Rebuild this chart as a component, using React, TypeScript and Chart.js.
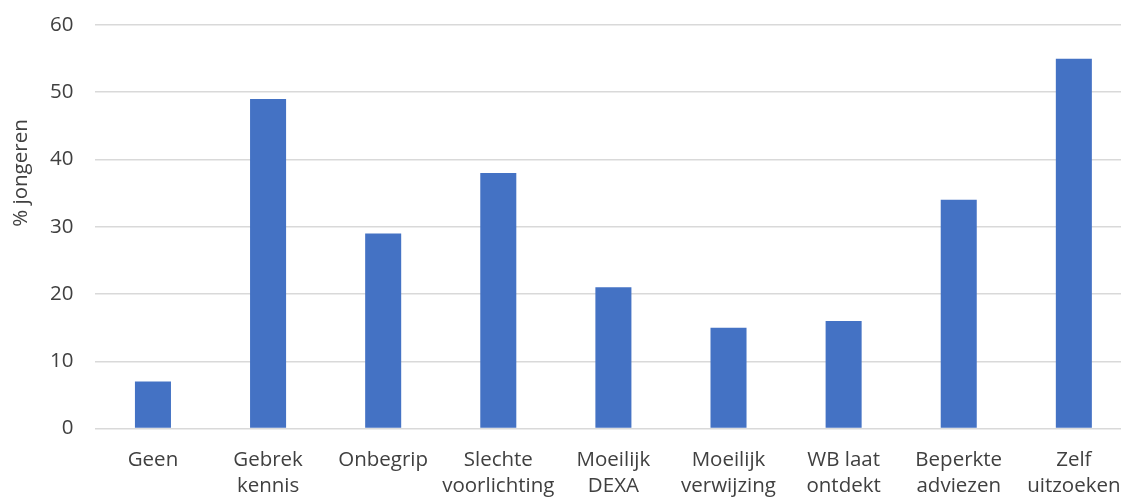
import React, { useEffect, useRef } from "react";
import { Chart, registerables } from "chart.js";

Chart.register(...registerables);

const categories: string[][] = [
  ["Geen"],
  ["Gebrek", "kennis"],
  ["Onbegrip"],
  ["Slechte", "voorlichting"],
  ["Moeilijk", "DEXA"],
  ["Moeilijk", "verwijzing"],
  ["WB laat", "ontdekt"],
  ["Beperkte", "adviezen"],
  ["Zelf", "uitzoeken"],
];
const percentages: number[] = [7, 49, 29, 38, 21, 15, 16, 34, 55];
const yTicks: number[] = [0, 10, 20, 30, 40, 50, 60];
const yTitle = "% jongeren";

const FONT = "'Open Sans', 'Segoe UI', sans-serif";
const TEXT = "#404040";
const GRID = "#d9d9d9";
const BAR = "#4472C4";

const axisTitlePlugin = {
  id: "axisTitleLeft",
  afterDraw(chart: Chart) {
    const ctx = chart.ctx;
    ctx.save();
    ctx.translate(21, 173);
    ctx.rotate(-Math.PI / 2);
    ctx.font = `400 20.5px ${FONT}`;
    ctx.fillStyle = TEXT;
    ctx.textAlign = "center";
    ctx.textBaseline = "middle";
    ctx.fillText(yTitle, 0, 0);
    ctx.restore();
  },
};

export default function App() {
  const ref = useRef<HTMLCanvasElement | null>(null);

  useEffect(() => {
    if (!ref.current) return;
    const chart = new Chart(ref.current, {
      type: "bar",
      data: {
        labels: categories,
        datasets: [
          {
            data: percentages,
            backgroundColor: BAR,
            borderWidth: 0,
            categoryPercentage: 1,
            barPercentage: 0.313,
          },
        ],
      },
      options: {
        responsive: false,
        animation: false,
        layout: { padding: { top: 25, right: 8.5, bottom: 0, left: 0 } },
        plugins: {
          legend: { display: false },
          tooltip: { enabled: false },
        },
        scales: {
          x: {
            grid: { display: false, drawTicks: false },
            border: { display: false },
            ticks: {
              color: TEXT,
              font: { family: FONT, size: 20.5, weight: 400, lineHeight: 1.27 },
              padding: 19,
              maxRotation: 0,
              autoSkip: false,
            },
            afterFit(scale: any) {
              scale.height = 71.5;
            },
          },
          y: {
            min: 0,
            max: 60,
            afterBuildTicks(scale: any) {
              scale.ticks = yTicks.map((v) => ({ value: v }));
            },
            grid: { color: GRID, lineWidth: 1.5, drawTicks: false },
            border: { display: false },
            ticks: {
              color: TEXT,
              font: { family: FONT, size: 20.5, weight: 400 },
              padding: 22,
            },
            afterFit(scale: any) {
              scale.width = 95.4;
              scale.paddingTop = 0;
              scale.paddingBottom = 0;
            },
          },
        },
      },
      plugins: [axisTitlePlugin],
    });
    return () => chart.destroy();
  }, []);

  return (
    <div
      style={{
        position: "fixed",
        left: 0,
        top: 0,
        width: 1121,
        height: 500,
        overflow: "hidden",
        background: "#ffffff",
      }}
    >
      <canvas ref={ref} width={1140} height={500} style={{ display: "block" }} />
    </div>
  );
}
